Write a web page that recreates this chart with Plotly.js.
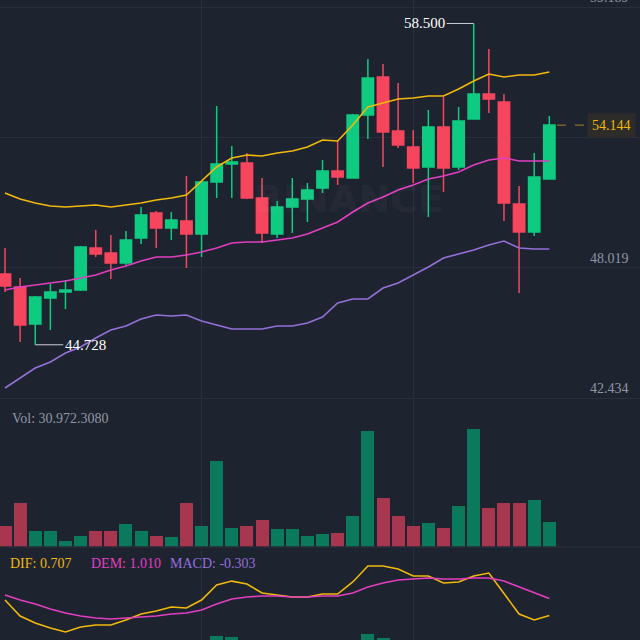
<!DOCTYPE html>
<html><head><meta charset="utf-8">
<script src="https://cdn.plot.ly/plotly-3.0.1.min.js"></script>
<style>html,body{margin:0;padding:0;background:#1e2330;}#chart{width:640px;height:640px;}</style>
</head><body><div id="chart"></div>
<script>
// candle index (time slots)
const idx = [0,1,2,3,4,5,6,7,8,9,10,11,12,13,14,15,16,17,18,19,20,21,22,23,24,25,26,27,28,29,30,31,32,33,34,35,36];
const open  = [47.762,47.205,45.619,46.733,46.990,47.076,48.876,48.662,48.233,49.305,50.376,49.734,50.034,49.476,51.705,52.477,52.520,51.019,49.476,50.634,50.977,51.448,52.177,51.877,54.577,56.206,53.891,53.205,52.348,54.063,52.348,54.406,55.477,55.134,50.762,49.562,51.834];
const high  = [48.876,47.590,46.819,47.333,47.505,48.962,49.648,49.433,49.605,50.634,50.462,50.419,51.962,51.720,54.963,53.248,52.948,51.877,50.891,51.877,51.662,52.648,53.505,54.620,56.977,56.763,55.949,53.934,54.791,55.349,54.920,58.500,57.406,55.477,51.534,52.948,54.534];
const low   = [46.990,44.847,44.728,45.361,46.262,47.033,48.490,47.548,48.148,49.048,48.876,49.219,48.019,48.490,51.019,51.019,50.977,49.091,49.305,49.519,49.991,51.234,51.577,51.877,53.548,52.348,53.163,51.662,50.205,51.277,52.220,54.406,54.663,50.034,46.947,49.391,51.834];
const close = [47.247,45.576,46.776,46.990,47.076,48.919,48.619,48.233,49.219,50.291,49.734,50.076,49.476,51.705,52.477,52.562,51.019,49.519,50.634,50.977,51.362,52.177,51.920,54.577,56.163,53.848,53.291,52.305,54.063,52.305,54.320,55.477,55.263,50.805,49.562,51.920,54.144];
// Bollinger bands
const bollUp  = [51.234,50.977,50.805,50.677,50.634,50.677,50.719,50.634,50.719,50.805,50.934,51.019,51.148,51.748,52.348,52.734,52.863,52.820,52.948,53.034,53.205,53.505,53.463,54.148,54.920,55.091,55.263,55.306,55.391,55.391,55.691,56.034,56.334,56.206,56.292,56.292,56.420];
const bollMid = [47.076,47.205,47.290,47.376,47.462,47.590,47.719,47.933,48.105,48.319,48.490,48.490,48.576,48.705,48.876,49.091,49.133,49.133,49.219,49.305,49.476,49.734,49.991,50.419,50.805,51.062,51.362,51.577,51.834,51.962,52.134,52.434,52.648,52.734,52.605,52.605,52.605];
const bollLow = [42.875,43.304,43.733,43.990,44.376,44.633,45.019,45.361,45.533,45.833,46.004,45.962,46.004,45.747,45.576,45.404,45.404,45.404,45.533,45.533,45.662,45.919,46.519,46.690,46.690,47.162,47.376,47.719,48.062,48.448,48.619,48.791,49.005,49.176,48.876,48.833,48.833];
// Volume
const volume = [26000,53300,19800,19800,7400,12400,18600,18600,27300,19800,12400,11200,54500,26000,106500,23500,26000,33400,22300,22300,12400,14900,17300,38400,142500,60700,38400,24800,29700,23500,49600,145000,47100,54500,54500,58200,30972.308];
// MACD
const dif  = [0.982,0.696,0.571,0.482,0.411,0.500,0.536,0.536,0.625,0.732,0.786,0.857,0.839,0.982,1.250,1.320,1.268,1.107,1.071,1.036,1.036,1.089,1.089,1.304,1.589,1.589,1.536,1.411,1.411,1.286,1.304,1.411,1.464,1.107,0.732,0.625,0.707];
const dea  = [1.071,0.982,0.911,0.821,0.750,0.696,0.661,0.643,0.661,0.679,0.696,0.732,0.750,0.804,0.911,1.000,1.036,1.054,1.054,1.036,1.036,1.054,1.054,1.107,1.214,1.286,1.339,1.357,1.375,1.357,1.357,1.375,1.375,1.321,1.214,1.107,1.010];
const macd = [-0.089,-0.286,-0.340,-0.339,-0.339,-0.196,-0.125,-0.107,-0.036,0.053,0.090,0.125,0.089,0.178,0.340,0.320,0.232,0.053,0.017,0.000,0.000,0.035,0.035,0.197,0.375,0.303,0.197,0.054,0.036,-0.071,-0.053,0.036,0.089,-0.214,-0.482,-0.482,-0.303];
// axis tick values (price) and which ones carry a visible label
const priceTicks = [42.434, 48.019, 53.604, 59.189];
const priceLabels = ['42.434', '48.019', '', '59.189'];
const timeGrid = [13, 27];
const volLabel = "Vol: 30.972.3080";

const BG = '#1e2330', GRID = '#2a303b';
const UP = '#0ecb81', DOWN = '#f6465d';
const VUP = '#0b7a5c', VDOWN = '#a6374f';
const YEL = '#f0b90b', MAG = '#e13fc0', PUR = '#9370d8';
const FONT = 'Liberation Serif';
const n = idx.length;
const last = close[n-1];

const traces = [
  {type:'candlestick', x:idx, open:open, high:high, low:low, close:close, xaxis:'x', yaxis:'y',
   increasing:{line:{color:UP, width:1.5}, fillcolor:UP}, decreasing:{line:{color:DOWN, width:1.5}, fillcolor:DOWN},
   whiskerwidth:0, hoverinfo:'skip'},
  {type:'scatter', mode:'lines', x:idx, y:bollUp, line:{color:YEL, width:1.6}, xaxis:'x', yaxis:'y', hoverinfo:'skip'},
  {type:'scatter', mode:'lines', x:idx, y:bollMid, line:{color:MAG, width:1.6}, xaxis:'x', yaxis:'y', hoverinfo:'skip'},
  {type:'scatter', mode:'lines', x:idx, y:bollLow, line:{color:PUR, width:1.6}, xaxis:'x', yaxis:'y', hoverinfo:'skip'},
  {type:'bar', x:idx, y:volume, width:0.86, marker:{color: idx.map(i => close[i] >= open[i] ? VUP : VDOWN), line:{width:0}},
   xaxis:'x', yaxis:'y2', hoverinfo:'skip'},
  {type:'bar', x:idx, y:macd, width:0.86, marker:{color: macd.map(v => v >= 0 ? VUP : VDOWN), line:{width:0}},
   xaxis:'x', yaxis:'y3', hoverinfo:'skip'},
  {type:'scatter', mode:'lines', x:idx, y:dif, line:{color:YEL, width:1.6}, xaxis:'x', yaxis:'y3', hoverinfo:'skip'},
  {type:'scatter', mode:'lines', x:idx, y:dea, line:{color:MAG, width:1.6}, xaxis:'x', yaxis:'y3', hoverinfo:'skip'}
];

const annotations = [];
priceTicks.forEach((v, i) => { if (priceLabels[i]) annotations.push({xref:'paper', x:0.986, xanchor:'right', yref:'y', y:v, yanchor:'bottom',
  text:priceLabels[i], showarrow:false, font:{family:FONT, size:14, color:'#8f96a3'}}); });
// watermark
annotations.push({xref:'paper', yref:'paper', x:0.545, y:0.727, text:'BINANCE', showarrow:false,
  font:{family:'DejaVu Sans', size:38, weight:700, color:'rgba(255,255,255,0.05)'}});
// last price tag
annotations.push({xref:'paper', x:0.994, xanchor:'right', yref:'y', y:last, yanchor:'middle', text:last.toFixed(3),
  showarrow:false, bgcolor:'#2d2c28', borderpad:4, font:{family:FONT, size:14, color:YEL}});
// highest / lowest markers
const hi = Math.max(...high), hiI = high.indexOf(hi);
const lo = Math.min(...low), loI = low.indexOf(lo);
annotations.push({x:hiI, y:hi, xref:'x', yref:'y', text:hi.toFixed(3), showarrow:true, arrowhead:0, arrowwidth:1,
  arrowcolor:'#c9ced6', ax:-49, ay:0, font:{family:FONT, size:15, color:'#ffffff'}});
annotations.push({x:loI, y:lo, xref:'x', yref:'y', text:lo.toFixed(3), showarrow:true, arrowhead:0, arrowwidth:1,
  arrowcolor:'#c9ced6', ax:50, ay:0, font:{family:FONT, size:15, color:'#ffffff'}});
// pane legends
annotations.push({xref:'paper', yref:'paper', x:10/640, y:1-418/640, xanchor:'left', yanchor:'middle', text:volLabel,
  showarrow:false, font:{family:FONT, size:14, color:'#8f96a3'}});
annotations.push({xref:'paper', yref:'paper', x:8/640, y:1-563/640, xanchor:'left', yanchor:'middle', text:'DIF: '+dif[n-1].toFixed(3),
  showarrow:false, font:{family:FONT, size:14, color:YEL}});
annotations.push({xref:'paper', yref:'paper', x:89/640, y:1-563/640, xanchor:'left', yanchor:'middle', text:'DEM: '+dea[n-1].toFixed(3),
  showarrow:false, font:{family:FONT, size:14, color:MAG}});
annotations.push({xref:'paper', yref:'paper', x:168/640, y:1-563/640, xanchor:'left', yanchor:'middle', text:'MACD: '+macd[n-1].toFixed(3),
  showarrow:false, font:{family:FONT, size:14, color:PUR}});

const shapes = [
  {type:'line', xref:'x', yref:'y', x0:n-1+0.5, x1:n-1+2.36, y0:last, y1:last, line:{color:'#a88420', width:1, dash:'dash'}},
  {type:'line', xref:'paper', yref:'paper', x0:0, x1:1, y0:1-398.5/640, y1:1-398.5/640, line:{color:GRID, width:1}},
  {type:'line', xref:'paper', yref:'paper', x0:0, x1:1, y0:1-547/640, y1:1-547/640, line:{color:GRID, width:1}}
];

const layout = {
  width:640, height:640, margin:{l:0, r:0, t:0, b:0, pad:0},
  paper_bgcolor:BG, plot_bgcolor:BG, showlegend:false, hovermode:false, dragmode:false,
  bargap:0, boxgap:0.25, boxgroupgap:0,
  xaxis:{range:[-0.331, 41.997], domain:[0,1], showticklabels:false, tickvals:timeGrid, showgrid:true, gridcolor:GRID,
         zeroline:false, showline:false, ticks:'', rangeslider:{visible:false}, fixedrange:true},
  yaxis:{domain:[1-398.5/640, 1], range:[42.425, 59.506], tickvals:priceTicks, showticklabels:false, showgrid:true,
         gridcolor:GRID, zeroline:false, showline:false, ticks:'', fixedrange:true},
  yaxis2:{domain:[1-546.5/640, 1-400/640], range:[0, 181494], showticklabels:false, showgrid:false, zeroline:false, ticks:'', fixedrange:true},
  yaxis3:{domain:[0, 1-548/640], range:[0.268, 1.911], showticklabels:false, showgrid:false, zeroline:false, ticks:'', fixedrange:true},
  annotations:annotations, shapes:shapes
};
Plotly.newPlot('chart', traces, layout, {displayModeBar:false, staticPlot:true});
</script>
</body></html>
